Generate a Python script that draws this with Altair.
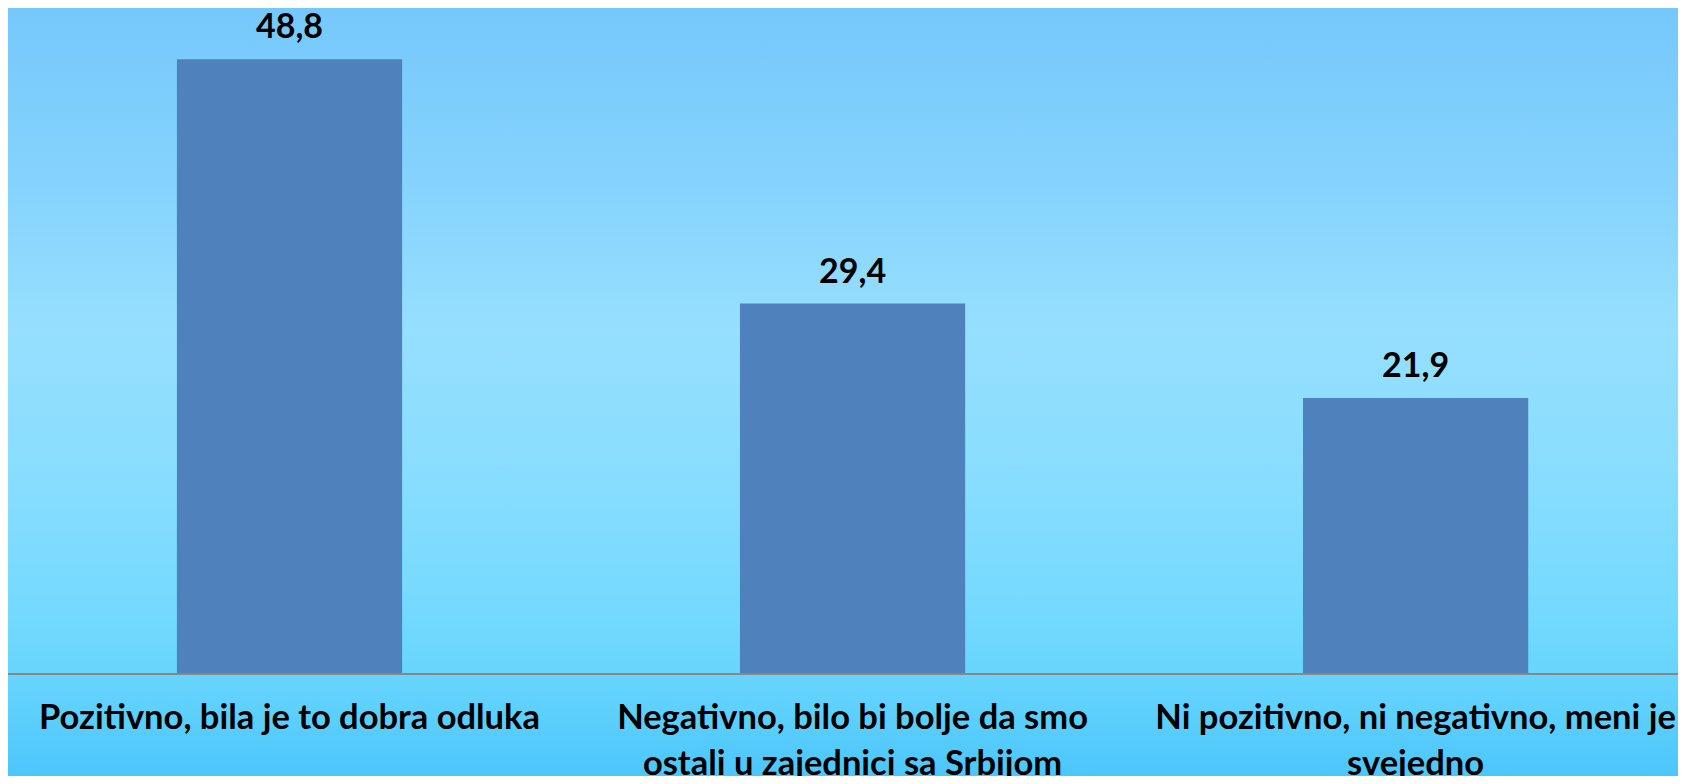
import altair as alt
import pandas as pd

categories = [
    "Pozitivno, bila je to dobra odluka",
    "Negativno, bilo bi bolje da smo\nostali u zajednici sa Srbijom",
    "Ni pozitivno, ni negativno, meni je\nsvejedno",
]
values = [48.8, 29.4, 21.9]
value_labels = ["48,8", "29,4", "21,9"]
baseline = [0]

W, H = 1670, 768
FONT = "Lato"

df = pd.DataFrame({"cat": categories, "val": values, "lab": value_labels,
                   "zero": baseline * len(values)})
bgdf = pd.DataFrame({"zero": baseline})

gradient = {
    "gradient": "linear",
    "x1": 0, "y1": 0, "x2": 0, "y2": 1,
    "stops": [
        {"offset": 0.0, "color": "#76C8FC"},
        {"offset": 0.23, "color": "#85D3FD"},
        {"offset": 0.42, "color": "#96DFFE"},
        {"offset": 0.62, "color": "#87DDFE"},
        {"offset": 0.80, "color": "#72D9FE"},
        {"offset": 0.89, "color": "#63D3FD"},
        {"offset": 1.0, "color": "#4CC6FB"},
    ],
}

xscale = alt.Scale(paddingInner=0.6, paddingOuter=0.283, align=0.53)
yscale = alt.Scale(domain=[-8.1, 52.86], nice=False, zero=False)
xs = alt.X("cat:N", sort=None, axis=None, scale=xscale)
ys = alt.Y("val:Q", axis=None, scale=yscale)

bg = alt.Chart(bgdf).mark_rect(fill=gradient, strokeWidth=0).encode(
    x=alt.value(0), x2=alt.value(W), y=alt.value(0), y2=alt.value(H)
)

bars = alt.Chart(df).mark_bar(color="#4F81BD").encode(
    x=xs, y=ys, y2="zero:Q"
)

rule = alt.Chart(bgdf).mark_rule(color="#878787", strokeWidth=2).encode(
    x=alt.value(0), x2=alt.value(W), y=alt.Y("zero:Q", axis=None, scale=yscale)
)

vals = alt.Chart(df).mark_text(
    font=FONT, fontWeight="bold", fontSize=34, color="#000000",
    baseline="alphabetic", dy=-21
).encode(x=xs, y=ys, text="lab:N")

cats = alt.Chart(df).mark_text(
    font=FONT, fontWeight="bold", fontSize=34.5, color="#000000",
    baseline="alphabetic", lineBreak="\n", lineHeight=46
).encode(x=xs, y=alt.value(721), text="cat:N")

chart = alt.layer(bg, bars, rule, vals, cats).properties(
    width=W, height=H,
    autosize=alt.AutoSizeParams(type="none"),
    padding=0,
).configure_view(stroke=None).configure(background="#76C8FC")

chart.save("out.html", embed_options={"renderer": "svg", "actions": False})
